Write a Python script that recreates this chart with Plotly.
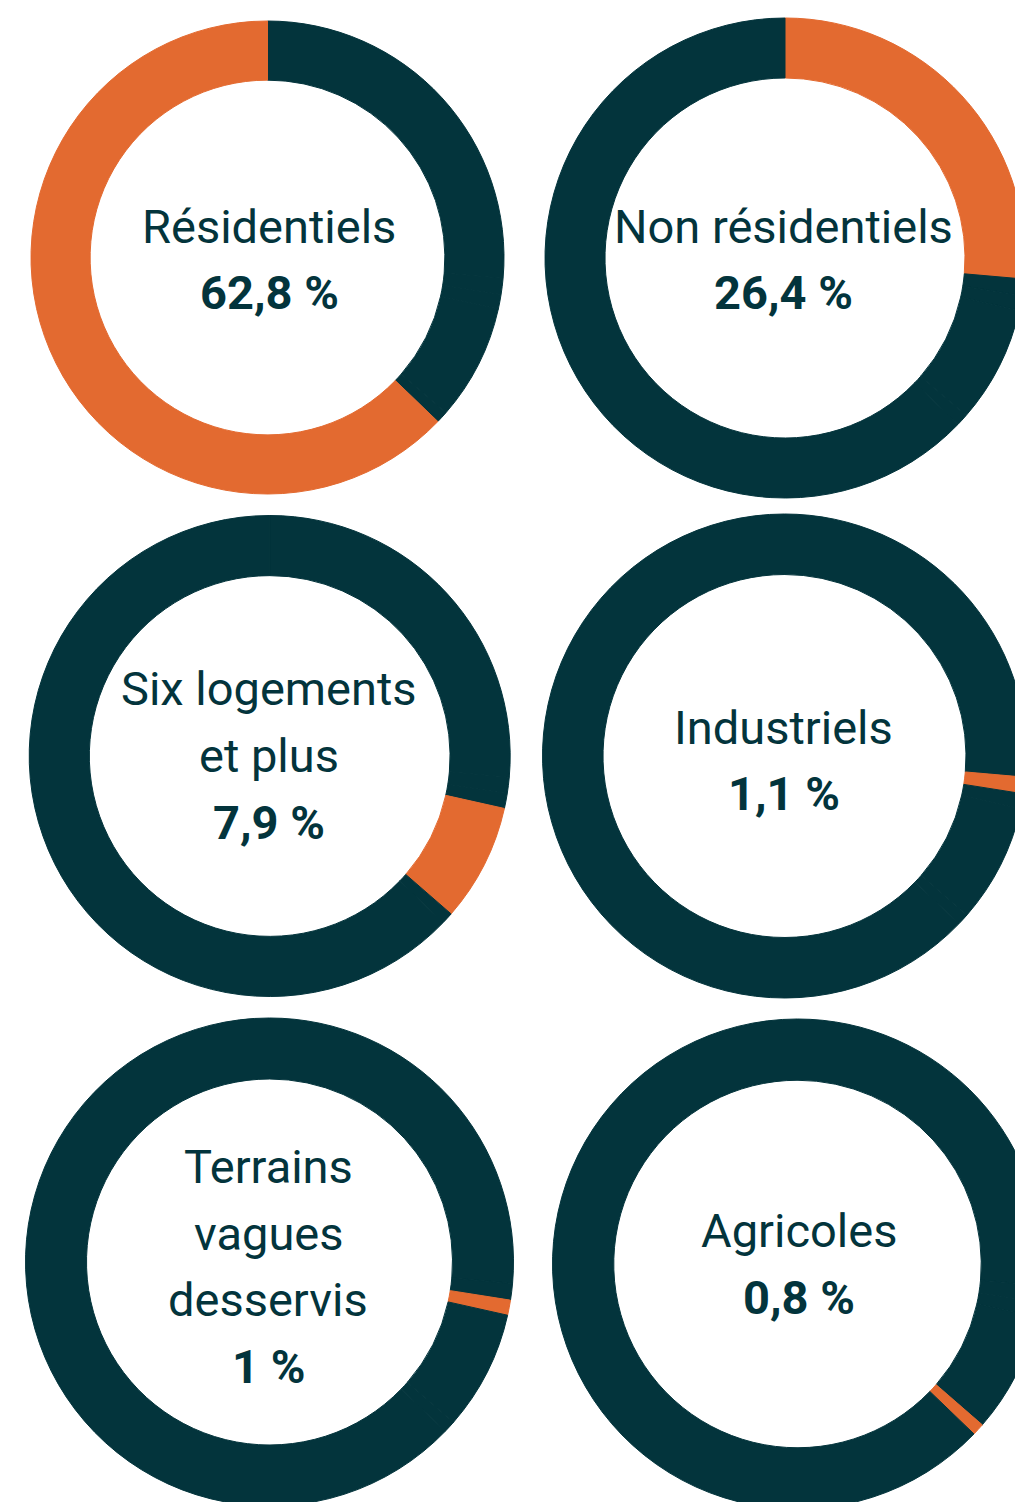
import plotly.graph_objects as go

# ---- data ----
categories = ["Non résidentiels", "Industriels", "Terrains vagues desservis",
              "Six logements et plus", "Agricoles", "Résidentiels"]
values = [26.4, 1.1, 1.0, 7.9, 0.8, 62.8]

# panel order (reading order) -> which category is highlighted
panel_highlight = ["Résidentiels", "Non résidentiels", "Six logements et plus",
                   "Industriels", "Terrains vagues desservis", "Agricoles"]
panel_lines = [["Résidentiels"], ["Non résidentiels"], ["Six logements", "et plus"],
               ["Industriels"], ["Terrains", "vagues", "desservis"], ["Agricoles"]]
panel_pct = ["62,8 %", "26,4 %", "7,9 %", "1,1 %", "1 %", "0,8 %"]

# ---- layout / style ----
W, H = 1050, 1530
DARK = "#03343C"
ORANGE = "#E36A30"
FONT = "Roboto"
FS = 47
LINE = 66.5

# pixel geometry of each donut: (cx, cy, r), text center x, first baseline
geom = [
    (267.5, 257.5, 236.5, 269, 242.3),
    (785.0, 258.0, 240.0, 783, 242.3),
    (269.7, 756.0, 240.5, 269, 705.0),
    (784.5, 756.0, 242.0, 783.5, 743.3),
    (269.5, 1262.0, 244.0, 268, 1182.7),
    (797.5, 1264.0, 245.0, 799, 1246.7),
]

fig = go.Figure()
annotations = []
for i, (cx, cy, r, tx, b0) in enumerate(geom):
    colors = [ORANGE if c == panel_highlight[i] else DARK for c in categories]
    fig.add_trace(go.Pie(
        labels=categories, values=values, sort=False, direction="clockwise",
        rotation=0, hole=0.75, textinfo="none", hoverinfo="label+percent",
        marker=dict(colors=colors, line=dict(width=1, color=colors)),
        domain=dict(x=[(cx - r) / W, (cx + r) / W],
                    y=[1 - (cy + r) / H, 1 - (cy - r) / H]),
        showlegend=False,
    ))
    lines = panel_lines[i] + [panel_pct[i]]
    for k, txt in enumerate(lines):
        bold = (k == len(lines) - 1)
        base = b0 + k * LINE
        ycen = base - 16
        annotations.append(dict(
            x=tx / W, y=1 - ycen / H, xref="paper", yref="paper",
            xanchor="center", yanchor="middle", showarrow=False,
            text=f"<b>{txt}</b>" if bold else txt,
            font=dict(family=FONT, size=FS, color=DARK),
        ))

fig.update_layout(
    width=W, height=H, margin=dict(l=0, r=0, t=0, b=0),
    paper_bgcolor="white", plot_bgcolor="white",
    annotations=annotations, showlegend=False,
)

fig.write_html(
    "out.html",
    config={"displayModeBar": False},
    post_script="document.body.style.margin='0';document.documentElement.style.overflow='hidden';document.body.style.overflow='hidden';",
)
